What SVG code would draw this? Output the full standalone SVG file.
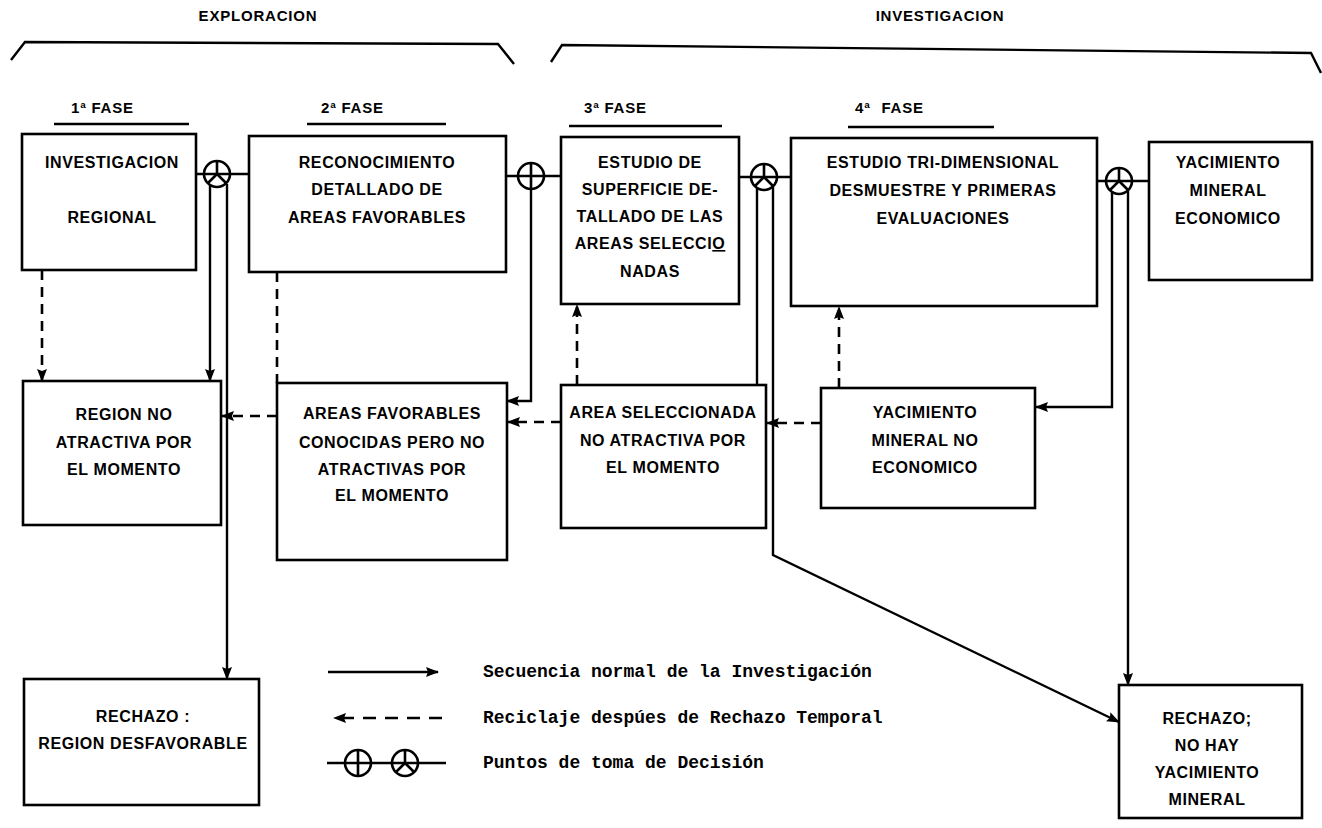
<svg xmlns="http://www.w3.org/2000/svg" xmlns:xlink="http://www.w3.org/1999/xlink" width="1322" height="828" viewBox="0 0 1322 828">
<style>
.box{fill:none;stroke:#000;stroke-width:2.6}
.t{font-family:"Liberation Sans",Arial,sans-serif;font-weight:bold;font-size:16px;letter-spacing:0.6px;text-anchor:middle;fill:#000}
.h{font-family:"Liberation Sans",Arial,sans-serif;font-weight:bold;font-size:15px;letter-spacing:0.8px;fill:#000}
.lg{font-family:"Liberation Mono","DejaVu Sans Mono",monospace;font-weight:bold;font-size:18px;fill:#000}
.ln{fill:none;stroke:#000;stroke-width:2.4}
.dash{fill:none;stroke:#000;stroke-width:2.6;stroke-dasharray:10 7}
.sym{fill:none;stroke:#000;stroke-width:2.6}
</style>
<defs>
<marker id="ah" markerWidth="13" markerHeight="10" refX="12" refY="5" orient="auto" markerUnits="userSpaceOnUse"><path d="M0,0 L13,5 L0,10 L2,5 Z" fill="#000"/></marker>
<g id="dp"><circle r="13" class="sym"/><path d="M0,-13 V0 M0,0 L-9,9 M0,0 L9,9" class="sym"/></g>
<g id="dc"><circle r="13" class="sym"/><path d="M0,-13 V13" class="sym"/></g>
</defs>

<g id="headers">
<path d="M11,60 L25,42 L498,44 L514,64" class="ln"/>
<path d="M551,62 L562,45 L1311,53 L1321,73" class="ln"/>
<text x="258" y="21" class="h" text-anchor="middle">EXPLORACION</text>
<text x="940" y="21" class="h" text-anchor="middle">INVESTIGACION</text>
<text x="71" y="113" class="h">1ª FASE</text>
<text x="321" y="113" class="h">2ª FASE</text>
<text x="584" y="113" class="h">3ª FASE</text>
<text x="855" y="113" class="h" style="word-spacing:6px">4ª FASE</text>
<path d="M54,124 H189 M307,124 H446 M569,126 H722 M848,127 H994" class="ln" stroke-width="2"/>
</g>

<g id="connectors">
<path d="M196,174 H249 M506,176 H561 M739,177 H791 M1097,181 H1149" class="ln"/>
<path d="M210,185 V381" class="ln" marker-end="url(#ah)"/>
<path d="M227,184 V679" class="ln" marker-end="url(#ah)"/>
<path d="M531,189 V401 H507" class="ln" marker-end="url(#ah)"/>
<path d="M757,188 V385" class="ln"/>
<path d="M773,187 V555 L1119,722" class="ln" marker-end="url(#ah)"/>
<path d="M1112,192 V407 H1036" class="ln" marker-end="url(#ah)"/>
<path d="M1128,191 V685" class="ln" marker-end="url(#ah)"/>
<path d="M42,270 V381" class="dash" marker-end="url(#ah)"/>
<path d="M277,272 V383" class="dash"/>
<path d="M277,416 H222" class="dash" marker-end="url(#ah)"/>
<path d="M561,422 H508" class="dash" marker-end="url(#ah)"/>
<path d="M821,423 H767" class="dash" marker-end="url(#ah)"/>
<path d="M577,385 V305" class="dash" marker-end="url(#ah)"/>
<path d="M839,388 V307" class="dash" marker-end="url(#ah)"/>
</g>

<g id="decisions">
<use xlink:href="#dp" x="217" y="174"/>
<use xlink:href="#dc" x="531" y="176"/>
<use xlink:href="#dp" x="764" y="177"/>
<use xlink:href="#dp" x="1119" y="181"/>
</g>

<g id="b1"><rect x="22" y="134" width="174" height="136" class="box"/>
<text class="t" x="112" y="168">INVESTIGACION</text><text class="t" x="112" y="223">REGIONAL</text></g>
<g id="b2"><rect x="249" y="136" width="257" height="136" class="box"/>
<text class="t" x="377" y="168">RECONOCIMIENTO</text><text class="t" x="377" y="195">DETALLADO DE</text><text class="t" x="377" y="223">AREAS FAVORABLES</text></g>
<g id="b3"><rect x="561" y="137" width="178" height="167" class="box"/>
<text class="t" x="650" y="168">ESTUDIO DE</text><text class="t" x="650" y="195">SUPERFICIE DE-</text><text class="t" x="650" y="222">TALLADO DE LAS</text><text class="t" x="650" y="249">AREAS SELECCI<tspan text-decoration="underline">O</tspan></text><text class="t" x="650" y="277">NADAS</text></g>
<g id="b4"><rect x="791" y="138" width="306" height="168" class="box"/>
<text class="t" x="943" y="168">ESTUDIO TRI-DIMENSIONAL</text><text class="t" x="943" y="196">DESMUESTRE Y PRIMERAS</text><text class="t" x="943" y="224">EVALUACIONES</text></g>
<g id="b5"><rect x="1149" y="142" width="163" height="138" class="box"/>
<text class="t" x="1228" y="168">YACIMIENTO</text><text class="t" x="1228" y="196">MINERAL</text><text class="t" x="1228" y="224">ECONOMICO</text></g>

<g id="m1"><rect x="23" y="381" width="198" height="144" class="box"/>
<text class="t" x="124" y="420">REGION NO</text><text class="t" x="124" y="448">ATRACTIVA POR</text><text class="t" x="124" y="475">EL MOMENTO</text></g>
<g id="m2"><rect x="277" y="383" width="230" height="177" class="box"/>
<text class="t" x="392" y="419">AREAS FAVORABLES</text><text class="t" x="392" y="448">CONOCIDAS PERO NO</text><text class="t" x="392" y="475">ATRACTIVAS POR</text><text class="t" x="392" y="501">EL MOMENTO</text></g>
<g id="m3"><rect x="561" y="385" width="205" height="143" class="box"/>
<text class="t" x="663" y="418">AREA SELECCIONADA</text><text class="t" x="663" y="446">NO ATRACTIVA POR</text><text class="t" x="663" y="473">EL MOMENTO</text></g>
<g id="m4"><rect x="821" y="388" width="214" height="120" class="box"/>
<text class="t" x="925" y="418">YACIMIENTO</text><text class="t" x="925" y="446">MINERAL NO</text><text class="t" x="925" y="473">ECONOMICO</text></g>

<g id="r1"><rect x="24" y="679" width="235" height="126" class="box"/>
<text class="t" x="143" y="722">RECHAZO :</text><text class="t" x="143" y="749">REGION DESFAVORABLE</text></g>
<g id="r2"><rect x="1119" y="685" width="183" height="133" class="box"/>
<text class="t" x="1207" y="724">RECHAZO;</text><text class="t" x="1207" y="751">NO HAY</text><text class="t" x="1207" y="778">YACIMIENTO</text><text class="t" x="1207" y="805">MINERAL</text></g>

<g id="legend">
<path d="M328,672 H438" class="ln" marker-end="url(#ah)"/>
<path d="M442,718 H334" class="ln" stroke-dasharray="13 9" marker-end="url(#ah)"/>
<path d="M327,763 H446" class="ln"/>
<use xlink:href="#dc" x="358" y="763"/>
<use xlink:href="#dp" x="405" y="763"/>
<text class="lg" x="483" y="677">Secuencia normal de la Investigación</text>
<text class="lg" x="483" y="723">Reciclaje despúes de Rechazo Temporal</text>
<text class="lg" x="483" y="768">Puntos de toma de Decisión</text>
</g>
</svg>
